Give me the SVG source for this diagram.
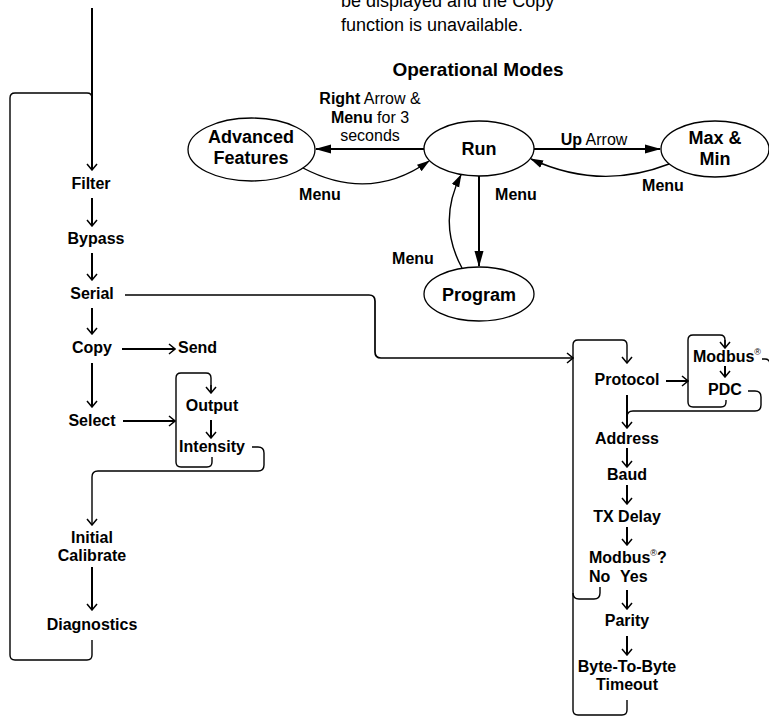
<svg xmlns="http://www.w3.org/2000/svg" width="769" height="716" viewBox="0 0 769 716">
<style>
text{font-family:"Liberation Sans",Arial,sans-serif;fill:#000}
.b{font-weight:bold;font-size:16px}
.r{font-size:16px}
.n{font-weight:bold;font-size:18px}
.c{text-anchor:middle}
.l{fill:none;stroke:#000;stroke-width:1.4}
.t{fill:none;stroke:#000;stroke-width:2}
.e{fill:#fff;stroke:#000;stroke-width:1.3}
.sup{font-size:9px;font-weight:normal}
</style>
<defs>
<marker id="open" viewBox="0 0 12 12" refX="11" refY="6" markerWidth="12" markerHeight="12" markerUnits="userSpaceOnUse" orient="auto"><path d="M5,1 L11,6 L5,11" fill="none" stroke="#000" stroke-width="1.5"/></marker>
<marker id="big" viewBox="0 0 16 10" refX="15" refY="5" markerWidth="16" markerHeight="10" markerUnits="userSpaceOnUse" orient="auto"><path d="M0,0.5 L16,5 L0,9.5 Z" fill="#000"/></marker>
<marker id="sm" viewBox="0 0 13 9" refX="12" refY="4.5" markerWidth="13" markerHeight="9" markerUnits="userSpaceOnUse" orient="auto"><path d="M0,0.5 L13,4.5 L0,8.5 Z" fill="#000"/></marker>
</defs>

<g id="note">
<text x="341" y="7" style="font-size:18px">be displayed and the Copy</text>
<text x="341" y="31" style="font-size:18px">function is unavailable.</text>
</g>
<g id="title"><text class="c" x="478" y="76" style="font-size:19px;font-weight:bold">Operational Modes</text></g>

<g id="connectors">
<!-- operational modes -->
<line class="t" x1="424" y1="149" x2="316" y2="149" marker-end="url(#big)"/>
<path class="l" d="M303,168 Q370,203 429,161" marker-end="url(#sm)"/>
<line class="t" x1="534" y1="149" x2="660" y2="149" marker-end="url(#big)"/>
<path class="l" d="M669,164 Q600,191 531,159" marker-end="url(#sm)"/>
<line class="t" x1="479" y1="176" x2="479" y2="266" marker-end="url(#big)"/>
<path class="l" d="M462,268 Q437,222 461,175" marker-end="url(#sm)"/>

<!-- left column -->
<line class="t" x1="92" y1="8" x2="92" y2="170" marker-end="url(#open)"/>
<path class="l" d="M92,640 L92,655 Q92,660 87,660 L15,660 Q10,660 10,655 L10,98 Q10,93 15,93 L87,93 Q92,93 92,98"/>
<line class="t" x1="92" y1="198" x2="92" y2="226" marker-end="url(#open)"/>
<line class="t" x1="92" y1="253" x2="92" y2="280" marker-end="url(#open)"/>
<line class="t" x1="92" y1="308" x2="92" y2="334" marker-end="url(#open)"/>
<line class="t" x1="122" y1="349" x2="175" y2="349" marker-end="url(#open)"/>
<line class="t" x1="92" y1="363" x2="92" y2="407" marker-end="url(#open)"/>
<line class="t" x1="123" y1="421" x2="175" y2="421" marker-end="url(#open)"/>
<path class="l" d="M211,393 L211,378 Q211,373 206,373 L181,373 Q176,373 176,378 L176,462 Q176,467 181,467 L207,467 Q212,467 212,462 L212,457" marker-start="none"/>
<line class="l" x1="211" y1="385" x2="211" y2="393" marker-end="url(#open)"/>
<line class="t" x1="211" y1="420" x2="211" y2="438" marker-end="url(#open)"/>
<path class="l" d="M252,447 L258,447 Q264,447 264,453 L264,465 Q264,471 258,471 L98,471 Q92,471 92,477 L92,525" marker-end="url(#open)"/>
<line class="t" x1="92" y1="567" x2="92" y2="610" marker-end="url(#open)"/>

<!-- serial link -->
<path class="l" d="M125,295 L369,295 Q375,295 375,301 L375,352 Q375,358 381,358 L573,358" marker-end="url(#open)" style="stroke-width:1.7"/>

<!-- right column -->
<path class="l" d="M627,700 L627,710 Q627,715 622,715 L578,715 Q573,715 573,710 L573,345 Q573,340 578,340 L622,340 Q627,340 627,345 L627,363" marker-end="url(#open)"/>
<line class="t" x1="666" y1="381" x2="688" y2="381" marker-end="url(#open)"/>
<path class="l" d="M725,348 L725,340 Q725,335 720,335 L693,335 Q688,335 688,340 L688,402 Q688,407 693,407 L721,407 Q726,407 726,402 L726,400"/>
<line class="l" x1="725" y1="340" x2="725" y2="348" marker-end="url(#open)"/>
<line class="t" x1="725" y1="366" x2="725" y2="377" marker-end="url(#open)"/>
<path class="l" d="M762,359 L765,359 Q770,359 770,365 L770,400"/>
<path class="l" d="M748,391 L755,391 Q761,391 761,397 L761,405 Q761,411 755,411 L633,411 Q627,411 627,417"/>
<line class="t" x1="627" y1="395" x2="627" y2="428" marker-end="url(#open)"/>
<line class="t" x1="627" y1="448" x2="627" y2="467" marker-end="url(#open)"/>
<line class="t" x1="627" y1="485" x2="627" y2="504" marker-end="url(#open)"/>
<line class="t" x1="627" y1="527" x2="627" y2="545" marker-end="url(#open)"/>
<path class="l" d="M600,587 L600,593 Q600,599 594,599 L579,599 Q573,599 573,593"/>
<line class="t" x1="627" y1="590" x2="627" y2="609" marker-end="url(#open)"/>
<line class="t" x1="627" y1="636" x2="627" y2="655" marker-end="url(#open)"/>
</g>

<g id="advanced"><ellipse class="e" cx="251.5" cy="149.5" rx="63.5" ry="31.5"/><text class="n c" x="251" y="143">Advanced</text><text class="n c" x="251" y="164">Features</text></g>
<g id="run"><ellipse class="e" cx="479" cy="148.5" rx="55" ry="27.5"/><text class="n c" x="479" y="155">Run</text></g>
<g id="maxmin"><ellipse class="e" cx="715" cy="149" rx="54" ry="28"/><text class="n c" x="715" y="144">Max &amp;</text><text class="n c" x="715" y="165">Min</text></g>
<g id="program"><ellipse class="e" cx="479" cy="294" rx="55" ry="27"/><text class="n c" x="479" y="301">Program</text></g>

<g id="edge-labels">
<text class="r c" x="370" y="104"><tspan font-weight="bold">Right</tspan> Arrow &amp;</text>
<text class="r c" x="370" y="123"><tspan font-weight="bold">Menu</tspan> for 3</text>
<text class="r c" x="370" y="141">seconds</text>
<text class="b c" x="320" y="200">Menu</text>
<text class="r c" x="594" y="145"><tspan font-weight="bold">Up</tspan> Arrow</text>
<text class="b c" x="663" y="191">Menu</text>
<text class="b c" x="516" y="200">Menu</text>
<text class="b c" x="413" y="264">Menu</text>
</g>

<g id="filter"><text class="b c" x="91" y="189">Filter</text></g>
<g id="bypass"><text class="b c" x="96" y="244">Bypass</text></g>
<g id="serial"><text class="b c" x="92" y="299">Serial</text></g>
<g id="copy"><text class="b c" x="92" y="353">Copy</text></g>
<g id="send"><text class="b" x="178" y="353">Send</text></g>
<g id="select"><text class="b c" x="92" y="426">Select</text></g>
<g id="output"><text class="b c" x="212" y="411">Output</text></g>
<g id="intensity"><text class="b c" x="212" y="452">Intensity</text></g>
<g id="initial-calibrate"><text class="b c" x="92" y="543">Initial</text><text class="b c" x="92" y="561">Calibrate</text></g>
<g id="diagnostics"><text class="b c" x="92" y="630">Diagnostics</text></g>

<g id="protocol"><text class="b c" x="627" y="385">Protocol</text></g>
<g id="modbus"><text class="b" x="693" y="362">Modbus<tspan class="sup" dy="-7">®</tspan></text></g>
<g id="pdc"><text class="b c" x="725" y="395">PDC</text></g>
<g id="address"><text class="b c" x="627" y="444">Address</text></g>
<g id="baud"><text class="b c" x="627" y="480">Baud</text></g>
<g id="tx-delay"><text class="b c" x="627" y="522">TX Delay</text></g>
<g id="modbus-q"><text class="b" x="589" y="563">Modbus<tspan class="sup" dy="-7">®</tspan><tspan dy="7">?</tspan></text><text class="b" x="589" y="582">No</text><text class="b" x="620" y="582">Yes</text></g>
<g id="parity"><text class="b c" x="627" y="626">Parity</text></g>
<g id="byte-timeout"><text class="b c" x="627" y="672">Byte-To-Byte</text><text class="b c" x="627" y="690">Timeout</text></g>
</svg>
